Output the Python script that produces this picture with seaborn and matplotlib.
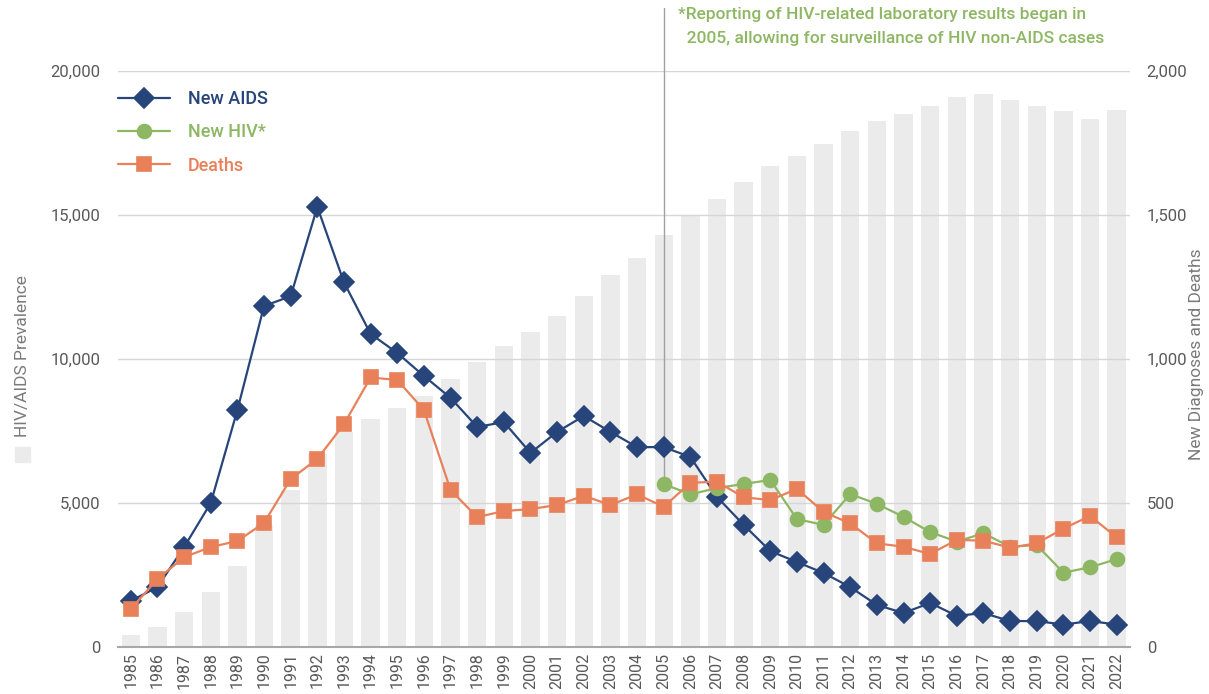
import numpy as np
import pandas as pd
import seaborn as sns
import matplotlib
matplotlib.use("Agg")
import matplotlib.pyplot as plt
from matplotlib.patches import Rectangle

years = [str(y) for y in range(1985, 2023)]

# HIV/AIDS prevalence (left axis, bars)
prevalence = [400, 700, 1200, 1900, 2800, 4240, 5450, 6700, 7450, 7920,
              8310, 8700, 9300, 9900, 10450, 10950, 11500, 12200, 12900, 13500,
              14300, 15000, 15550, 16150, 16700, 17050, 17450, 17900, 18250, 18500,
              18800, 19100, 19200, 19000, 18800, 18600, 18350, 18650]

# right axis series
new_aids = [160, 208, 347, 500, 823, 1184, 1218, 1528, 1266, 1087,
            1021, 941, 865, 764, 781, 674, 747, 802, 747, 694,
            694, 660, 521, 424, 333, 295, 257, 208, 146, 118,
            153, 108, 118, 90, 90, 78, 90, 78]
new_hiv = [np.nan] * 20 + [566, 530, 552, 566, 580, 444, 424, 531, 497, 452,
                           399, 366, 395, 348, 354, 258, 277, 305]
deaths = [132, 236, 312, 347, 368, 431, 583, 653, 774, 936,
          927, 823, 545, 451, 472, 479, 493, 525, 493, 530,
          487, 570, 574, 520, 510, 549, 469, 429, 360, 348,
          323, 372, 369, 345, 360, 411, 455, 381]

series_names = ["New AIDS", "New HIV*", "Deaths"]
NAVY = "#27457A"
GREEN = "#8DB763"
ORANGE = "#E8815A"
BAR = "#EBEBEB"
TICK = "#595959"
LABEL = "#7A7A7A"
palette = {"New AIDS": NAVY, "New HIV*": GREEN, "Deaths": ORANGE}

lines_df = pd.DataFrame({
    "year": years * 3,
    "value": new_aids + new_hiv + deaths,
    "series": np.repeat(series_names, len(years)),
})

sns.set_theme(style="white")
plt.rcParams["font.family"] = ["Roboto", "DejaVu Sans"]

W, H = 1209, 694
fig = plt.figure(figsize=(W / 100, H / 100), dpi=100)
ax = fig.add_axes([117.5 / W, 47 / H, (1130 - 117.5) / W, 576 / H])

sns.barplot(x=years, y=prevalence, color=BAR, saturation=1, width=0.69,
            linewidth=0, ax=ax)
ax.set_ylim(0, 20000)
ax.set_yticks([0, 5000, 10000, 15000, 20000])
ax.set_yticklabels([f"{v:,}" for v in [0, 5000, 10000, 15000, 20000]])
ax.yaxis.grid(True, color="#D6D6D6", linewidth=1)
ax.set_axisbelow("line")
for s in ["top", "left", "right"]:
    ax.spines[s].set_visible(False)
ax.spines["bottom"].set_color("#A8A8A8")
ax.spines["bottom"].set_linewidth(1.5)
ax.tick_params(axis="y", length=0, pad=12, labelsize=12, labelcolor=TICK)
ax.tick_params(axis="x", length=0, pad=4, labelsize=11.5, labelcolor=TICK, rotation=90)
ax.set_xlabel("")
ax.set_ylabel("")

ax2 = ax.twinx()
sns.pointplot(data=lines_df, x="year", y="value", hue="series", order=years,
              hue_order=series_names, palette=palette, markers=["D", "o", "s"],
              linestyles="-", markersize=10, linewidth=1.6, errorbar=None, ax=ax2)
ax2.set_ylim(0, 2000)
ax2.set_yticks([0, 500, 1000, 1500, 2000])
ax2.set_yticklabels([f"{v:,}" for v in [0, 500, 1000, 1500, 2000]])
ax2.tick_params(axis="y", length=0, pad=12, labelsize=12, labelcolor=TICK)
for s in ax2.spines.values():
    s.set_visible(False)
ax2.set_ylabel("")
ax2.set_xlabel("")
ax.set_xlim(-0.5, len(years) - 0.5)

# reporting note line at 2005
pos05 = years.index("2005")
ax2.plot([pos05, pos05], [new_hiv[pos05], 2220], color="#A0A0A0", lw=1,
         zorder=0.5, clip_on=False)
fig.text(678 / W, 1 - 7 / H,
         "*Reporting of HIV-related laboratory results began in\n"
         "  2005, allowing for surveillance of HIV non-AIDS cases",
         ha="left", va="top", fontsize=12.5, color=GREEN, fontweight="medium",
         linespacing=1.72)

handles, labels = ax2.get_legend_handles_labels()
ax2.get_legend().remove()
leg = ax2.legend(handles, labels, loc="upper left", frameon=False,
                 bbox_to_anchor=(118 / W, 1 - 90 / H), bbox_transform=fig.transFigure,
                 fontsize=13, handlelength=2.9, handletextpad=0.95,
                 labelspacing=0.85, borderpad=0, borderaxespad=0)
for t, name in zip(leg.get_texts(), labels):
    t.set_color(palette[name])
    t.set_fontweight("medium")

fig.text(22 / W, 1 - 356 / H, "HIV/AIDS Prevalence", rotation=90,
         ha="center", va="center", fontsize=12.5, color=LABEL)
fig.patches.append(Rectangle((15 / W, 1 - 462 / H), 15 / W, 15 / H,
                             transform=fig.transFigure, color=BAR, figure=fig))
fig.text(1197 / W, 1 - 354 / H, "New Diagnoses and Deaths", rotation=90,
         ha="center", va="center", fontsize=12.5, color=LABEL)

fig.savefig("out.png", dpi=100)
